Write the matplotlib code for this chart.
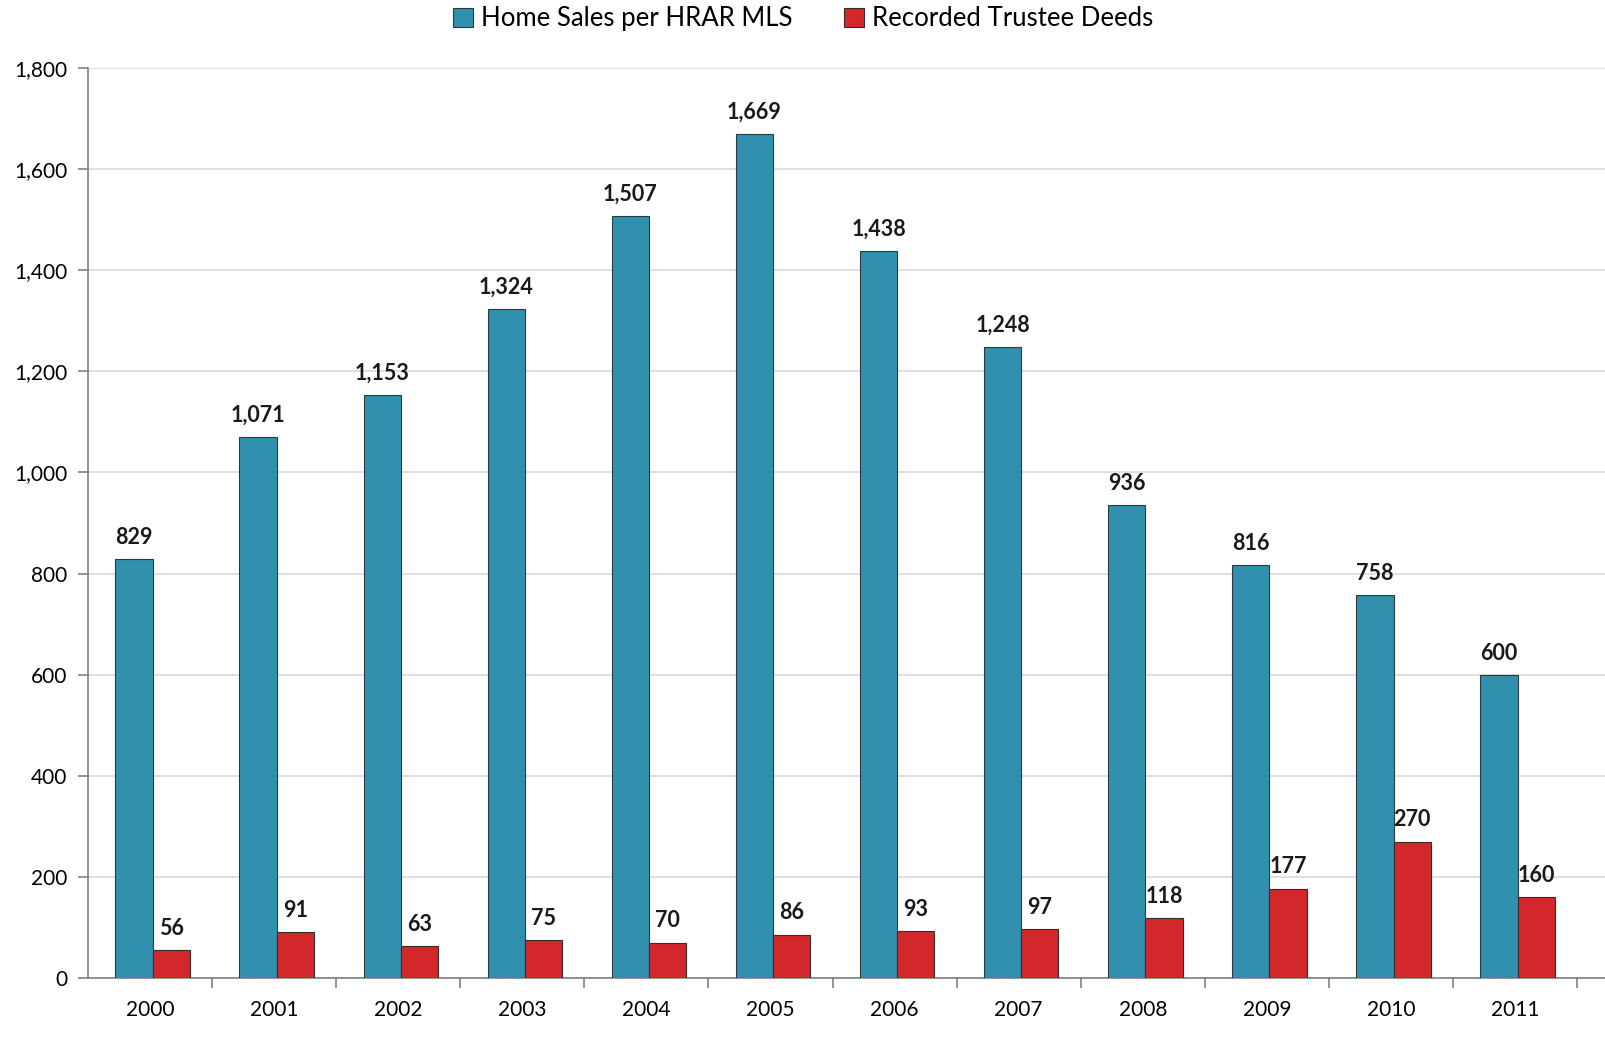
import numpy as np
import matplotlib
matplotlib.use('Agg')
import matplotlib.pyplot as plt
from matplotlib.ticker import FuncFormatter, MultipleLocator

plt.rcParams['font.family'] = ['Lato', 'DejaVu Sans']

years = ['2000', '2001', '2002', '2003', '2004', '2005',
         '2006', '2007', '2008', '2009', '2010', '2011']
home_sales = [829, 1071, 1153, 1324, 1507, 1669, 1438, 1248, 936, 816, 758, 600]
trustee_deeds = [56, 91, 63, 75, 70, 86, 93, 97, 118, 177, 270, 160]

blue = '#3190ad'
red = '#d2282b'
w = 0.3

fig = plt.figure(figsize=(16.06, 10.45), dpi=100, facecolor='w')
ax = fig.add_axes([88 / 1606, 1 - 978 / 1045, 1 - 88 / 1606, (978 - 68) / 1045])

x = np.arange(len(years))
xb = x - 0.13
xr = x + 0.17
b1 = ax.bar(xb, home_sales, width=w, color=blue, edgecolor='#2a3a40',
            linewidth=0.8, label='Home Sales per HRAR MLS', zorder=3)
b2 = ax.bar(xr, trustee_deeds, width=w, color=red, edgecolor='#3a2a2a',
            linewidth=0.8, label='Recorded Trustee Deeds', zorder=3)

for xi, v in zip(xb, home_sales):
    ax.text(xi, v + 22, '{:,}'.format(v), ha='center', va='bottom',
            fontsize=15.5, fontweight='bold', color='#1a1a1a')
for xi, v in zip(xr, trustee_deeds):
    ax.text(xi, v + 22, '{:,}'.format(v), ha='center', va='bottom',
            fontsize=15.5, fontweight='bold', color='#1a1a1a')

ax.set_ylim(0, 1800)
ax.set_xlim(-0.5, (1606 - 88) / 124.1 - 0.5)
ax.yaxis.set_major_locator(MultipleLocator(200))
ax.yaxis.set_major_formatter(FuncFormatter(lambda v, p: '{:,}'.format(int(v))))
ax.grid(axis='y', color='#d9d9d9', linewidth=1.2, zorder=0)

ax.set_xticks(x)
ax.set_xticklabels(years)
ax.set_xticks(np.arange(len(years)) + 0.5, minor=True)
ax.tick_params(axis='x', which='major', length=0, pad=16, labelsize=15)
ax.tick_params(axis='x', which='minor', length=7, color='#808080', width=1.2)
ax.tick_params(axis='y', length=7, color='#808080', width=1.2, labelsize=15,
               pad=8)

for s in ['top', 'right']:
    ax.spines[s].set_visible(False)
for s in ['left', 'bottom']:
    ax.spines[s].set_color('#808080')
    ax.spines[s].set_linewidth(1.2)

fig.legend(handles=[b1, b2], loc='upper center', bbox_to_anchor=(0.5, 1.016),
           ncol=2, frameon=False, fontsize=18.5, handlelength=0.8,
           handleheight=0.8, handletextpad=0.3, columnspacing=2.0)

fig.savefig('out.png', dpi=100)
